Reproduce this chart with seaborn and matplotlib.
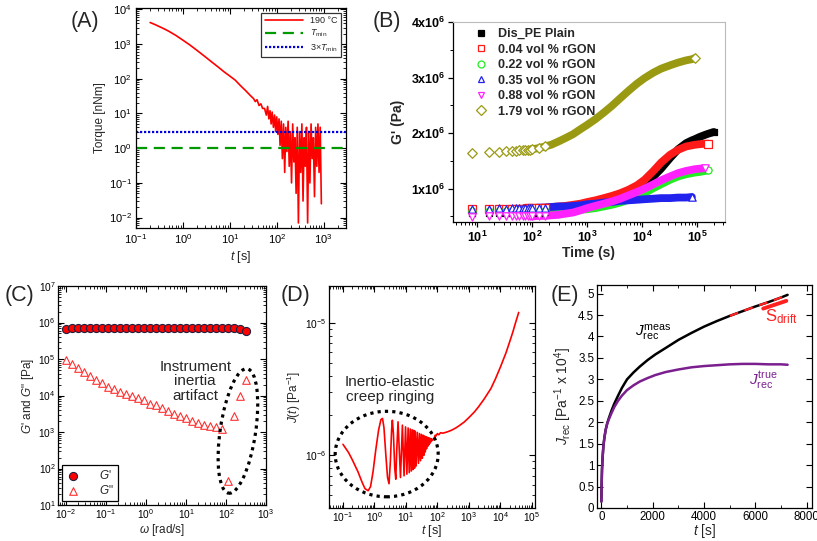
import numpy as np
import pandas as pd
import matplotlib
matplotlib.use("Agg")
import matplotlib.pyplot as plt
import seaborn as sns
from matplotlib.patches import Ellipse
from matplotlib.lines import Line2D
from matplotlib.ticker import (LogLocator, NullFormatter, FixedLocator,
                               MultipleLocator, FuncFormatter)

# ---------------- data ----------------
# (A) torque relaxation at 190 C
A_T_SMOOTH = [0.2, 0.25, 0.3, 0.4, 0.5, 0.7, 1.0, 1.4, 2.0, 3.0, 4.0, 5.5, 7.5,
              10, 13, 17, 22, 28, 32, 35, 38, 42, 46, 50]
A_TQ_SMOOTH = [4200, 3700, 3300, 2750, 2350, 1800, 1300, 950, 660, 430, 315, 225,
               160, 120, 92, 63, 45, 32, 27, 22, 25, 17, 19, 14]
A_T_NOISE = [55, 60, 64, 68, 72, 76, 80, 85, 90, 95, 100, 106, 112, 118, 125, 132,
             140, 148, 156, 165, 175, 185, 196, 207, 219, 232, 245, 259, 274, 290,
             307, 325, 344, 364, 385, 407, 431, 456, 482, 510, 540, 571, 604, 639,
             676, 715, 757, 800, 846, 895]
A_TQ_NOISE = [14, 9, 16, 7, 12, 5, 11, 4, 9, 3, 8, 2.5, 7, 1.2, 6, 0.5,
              5, 0.2, 4, 0.8, 6, 0.3, 3, 0.1, 5, 0.4, 2, 0.05, 4, 0.007,
              3, 0.2, 5, 0.03, 2, 0.3, 4, 0.007, 3, 0.1, 5, 0.5, 2, 0.04,
              4, 0.3, 5, 0.2, 4, 0.025]
T_MIN = 1.0

# (B) G' vs time
B_TIME = [8, 16, 25, 33, 42, 50, 58, 67, 75, 83, 92, 100, 130, 170, 220, 300, 400,
          550, 750, 1000, 1400, 2000, 2800, 4000, 5600, 8000, 11000, 16000, 22000,
          32000, 45000, 63000, 80000, 90000, 110000, 140000, 160000, 200000]
B_LABELS = ["Dis_PE Plain", "0.04 vol % rGON", "0.22 vol % rGON",
            "0.35 vol % rGON", "0.88 vol % rGON", "1.79 vol % rGON"]
nan = float("nan")
B_PLAIN = [0.56, 0.56, 0.57, 0.56, 0.57, 0.57, 0.56, 0.57, 0.57, 0.57, 0.57, 0.57,
           0.57, 0.58, 0.58, 0.59, 0.61, 0.63, 0.66, 0.70, 0.74, 0.78, 0.82, 0.87,
           0.93, 1.00, 1.08, 1.22, 1.36, 1.55, 1.71, 1.82, 1.87, 1.89, 1.93, 1.97,
           1.99, 2.02]
B_004 = [0.63, 0.63, 0.64, 0.63, 0.64, 0.64, 0.64, 0.64, 0.64, 0.65, 0.65, 0.65,
         0.65, 0.66, 0.67, 0.68, 0.69, 0.71, 0.73, 0.76, 0.79, 0.83, 0.87, 0.92,
         0.98, 1.06, 1.16, 1.32, 1.47, 1.61, 1.70, 1.76, 1.78, 1.79, 1.80, 1.81,
         1.81, nan]
B_022 = [0.60, 0.60, 0.60, 0.60, 0.60, 0.60, 0.60, 0.60, 0.60, 0.60, 0.60, 0.60,
         0.60, 0.60, 0.60, 0.61, 0.61, 0.62, 0.62, 0.63, 0.65, 0.68, 0.71, 0.75,
         0.80, 0.86, 0.92, 1.01, 1.08, 1.16, 1.22, 1.26, 1.28, 1.29, 1.30, 1.32,
         1.33, nan]
B_035 = [0.64, 0.64, 0.65, 0.64, 0.65, 0.65, 0.65, 0.65, 0.65, 0.65, 0.65, 0.65,
         0.66, 0.66, 0.67, 0.68, 0.68, 0.69, 0.70, 0.72, 0.73, 0.75, 0.76, 0.78,
         0.79, 0.80, 0.81, 0.82, 0.83, 0.83, 0.84, 0.84, 0.85, nan, nan, nan,
         nan, nan]
B_088 = [0.49, 0.50, 0.50, 0.50, 0.50, 0.50, 0.50, 0.50, 0.50, 0.50, 0.50, 0.50,
         0.51, 0.51, 0.52, 0.53, 0.55, 0.57, 0.61, 0.65, 0.69, 0.73, 0.77, 0.82,
         0.88, 0.94, 1.00, 1.08, 1.15, 1.22, 1.28, 1.32, 1.34, 1.35, 1.36, 1.37,
         nan, nan]
B_179 = [1.65, 1.66, 1.66, 1.67, 1.68, 1.68, 1.69, 1.69, 1.70, 1.70, 1.70, 1.71,
         1.73, 1.76, 1.79, 1.85, 1.91, 1.98, 2.07, 2.15, 2.25, 2.37, 2.49, 2.63,
         2.76, 2.89, 2.99, 3.09, 3.16, 3.22, 3.27, 3.31, 3.33, 3.35, nan, nan,
         nan, nan]
B_YTICK_LABELS = [r"$\mathbf{1x10^{6}}$", r"$\mathbf{2x10^{6}}$",
                  r"$\mathbf{3x10^{6}}$", r"$\mathbf{4x10^{6}}$"]

# (C) frequency sweep
C_OMEGA = [0.010, 0.0141, 0.020, 0.0282, 0.0398, 0.0562, 0.0794, 0.112, 0.158,
           0.224, 0.316, 0.447, 0.631, 0.891, 1.26, 1.78, 2.51, 3.55, 5.01, 7.08,
           10.0, 14.1, 20.0, 28.2, 39.8, 56.2, 79.4, 112, 158, 224, 316]
C_GP = [6.8e5, 6.9e5, 6.9e5, 7.0e5, 7.0e5, 7.0e5, 7.1e5, 7.1e5, 7.1e5, 7.1e5,
        7.1e5, 7.2e5, 7.2e5, 7.2e5, 7.2e5, 7.2e5, 7.2e5, 7.2e5, 7.2e5, 7.2e5,
        7.2e5, 7.2e5, 7.2e5, 7.2e5, 7.1e5, 7.1e5, 7.1e5, 7.0e5, 6.9e5, 6.7e5, 6.0e5]
C_GPP = [93000, 72000, 57000, 44000, 34000, 27000, 22000, 17000, 15000, 12600,
         11000, 9500, 8500, 7600, 5800, 5600, 4600, 3700, 3200, 2800,
         2400, 1950, 1740, 1550, 1450, 1350, 1200, 45, 2800, 10000, 26000]

# (D) creep compliance (units of 1e-6 1/Pa)
D_T = [0.10, 0.15, 0.20, 0.30, 0.40, 0.50, 0.63, 0.75, 0.90, 1.10,
       1.35, 1.60, 1.80, 2.00, 2.30, 2.60, 2.90, 3.20, 3.50, 3.70,
       4.00, 4.40, 4.75, 5.10, 5.60, 6.70, 7.70, 8.70, 9.70, 10.7,
       11.7, 12.7, 13.7, 14.7, 15.7, 16.7, 17.7, 18.7, 19.7, 21,
       23, 25, 27, 29, 31, 33, 35, 37, 39, 41,
       43, 45, 47, 49, 51, 53, 55, 57, 59, 61,
       63, 65, 67, 70, 75, 80, 85, 90, 100, 110,
       125, 150, 200, 250, 300, 400, 500, 700, 1000, 1500,
       2000, 3000, 5000, 7000, 10000, 15000, 20000, 25000, 30000, 38000]
D_J = [1.21, 1.05, 0.92, 0.75, 0.63, 0.56, 0.54, 0.58, 0.75, 1.10,
       1.55, 1.86, 1.90, 1.62, 1.00, 0.68, 0.61, 0.90, 1.55, 1.84,
       1.45, 0.80, 0.66, 1.10, 1.79, 0.68, 1.69, 0.70, 1.64, 0.72,
       1.61, 0.74, 1.58, 0.76, 1.56, 0.78, 1.54, 0.80, 1.52, 0.83,
       1.49, 0.87, 1.46, 0.91, 1.44, 0.95, 1.42, 1.00, 1.40, 1.06,
       1.38, 1.12, 1.37, 1.17, 1.36, 1.20, 1.35, 1.23, 1.34, 1.26,
       1.33, 1.28, 1.32, 1.30, 1.33, 1.36, 1.42, 1.40, 1.46, 1.43,
       1.48, 1.47, 1.50, 1.53, 1.56, 1.62, 1.68, 1.78, 1.93, 2.13,
       2.32, 2.65, 3.20, 3.80, 4.65, 5.95, 7.30, 8.60, 10.0, 12.0]

# (E) recoverable compliance (units of 1e-4 1/Pa)
E_T = [0, 10, 25, 50, 80, 120, 170, 230, 300, 400, 500, 650, 800, 1000, 1250,
       1500, 1800, 2100, 2500, 3000, 3500, 4000, 4500, 5000, 5500, 6000, 6500,
       7000, 7250]
E_MEAS = [0.15, 0.55, 0.90, 1.20, 1.45, 1.65, 1.83, 1.98, 2.11, 2.28, 2.43, 2.62,
          2.80, 3.00, 3.16, 3.30, 3.45, 3.58, 3.73, 3.92, 4.08, 4.23, 4.36, 4.48,
          4.59, 4.70, 4.80, 4.91, 4.97]
E_TRUE = [0.15, 0.55, 0.90, 1.20, 1.45, 1.65, 1.83, 1.97, 2.08, 2.22, 2.35, 2.50,
          2.62, 2.75, 2.86, 2.95, 3.03, 3.10, 3.17, 3.23, 3.28, 3.31, 3.33, 3.35,
          3.36, 3.36, 3.35, 3.35, 3.34]
SDRIFT_T = [6300, 7200]
SDRIFT_J = [4.65, 4.83]

# ---------------- style ----------------
sns.set_theme(style="ticks")
plt.rcParams['font.family'] = ['Liberation Sans', 'DejaVu Sans']
plt.rcParams['mathtext.fontset'] = 'custom'
plt.rcParams['mathtext.rm'] = 'Liberation Sans'
plt.rcParams['mathtext.it'] = 'Liberation Sans:italic'
plt.rcParams['mathtext.bf'] = 'Liberation Sans:bold'
plt.rcParams['axes.linewidth'] = 0.9
plt.rcParams['axes.edgecolor'] = 'black'

W, H = 817, 541
fig = plt.figure(figsize=(W / 100, H / 100), dpi=100)
fig.patch.set_facecolor('white')


def px_axes(l, t, r, b):
    return fig.add_axes([l / W, 1 - b / H, (r - l) / W, (b - t) / H])


def log_minor(ax, axis='both'):
    loc = lambda: LogLocator(base=10, subs=np.arange(2, 10), numticks=100)
    if axis in ('x', 'both'):
        ax.xaxis.set_minor_locator(loc())
        ax.xaxis.set_minor_formatter(NullFormatter())
        ax.xaxis.set_major_locator(LogLocator(base=10, numticks=100))
    if axis in ('y', 'both'):
        ax.yaxis.set_minor_locator(loc())
        ax.yaxis.set_minor_formatter(NullFormatter())
        ax.yaxis.set_major_locator(LogLocator(base=10, numticks=100))


def in_ticks(ax, size, pad=3):
    ax.tick_params(which='both', direction='in', top=True, right=True,
                   labelsize=size, colors='black', pad=pad)
    ax.tick_params(which='major', length=4, width=0.8)
    ax.tick_params(which='minor', length=2, width=0.6)


def place_xlabel(ax, y_frac):
    ax.xaxis.label.set_va('center')
    ax.xaxis.set_label_coords(0.5, y_frac)


# ---------------- (A) ----------------
axA = px_axes(136, 8, 346, 228)
axA.set_xscale('log'); axA.set_yscale('log')
dfA = pd.DataFrame({"t": A_T_SMOOTH + A_T_NOISE, "torque": A_TQ_SMOOTH + A_TQ_NOISE})
sns.lineplot(data=dfA, x="t", y="torque", ax=axA, color="#ff0000", lw=1.2,
             estimator=None, sort=False, label="190 °C")
axA.axhline(T_MIN, color="#009a00", ls=(0, (5, 3)), lw=1.6, label=r"$T_{\rm min}$")
axA.axhline(3 * T_MIN, color="#0000dd", ls=(0, (1, 0.8)), lw=1.6,
            label=r"3×$T_{\rm min}$")
axA.set_xlim(0.1, 3000); axA.set_ylim(5e-3, 1.1e4)
log_minor(axA)
in_ticks(axA, 8)
axA.set_xlabel(r"$t$ [s]", fontsize=9, labelpad=2)
axA.set_ylabel("Torque [nNm]", fontsize=8.5, labelpad=2)
legA = axA.legend(loc='upper right', fontsize=6.5, frameon=True, fancybox=False,
                  edgecolor='#333333', framealpha=1, handlelength=4.2,
                  borderaxespad=0.5, labelspacing=0.3, borderpad=0.4)
legA.get_frame().set_linewidth(0.9)

# ---------------- (B) ----------------
axB = px_axes(453, 22, 725, 222)
axB.set_xscale('log')
b_series = [B_PLAIN, B_004, B_022, B_035, B_088, B_179]
b_colors = ["#000000", "#ff1a1a", "#22ee22", "#2222ee", "#ff22ff", "#9a9a12"]
b_markers = ["s", "s", "o", "^", "v", "D"]
b_sizes = [18, 26, 26, 28, 28, 24]
for vals, col, mk, sz in zip(b_series, b_colors, b_markers, b_sizes):
    df = pd.DataFrame({"t": B_TIME, "G": np.array(vals) * 1e6}).dropna()
    dense = df[df["t"] >= 100]
    sns.lineplot(data=dense, x="t", y="G", ax=axB, color=col, lw=5.6,
                 estimator=None, legend=False, solid_capstyle='round')
    sparse = pd.concat([df[df["t"] <= 170], df.iloc[[-1]]])
    fc = col if col == "#000000" else 'white'
    sns.scatterplot(data=sparse, x="t", y="G", ax=axB, marker=mk, s=sz,
                    facecolor=fc, edgecolor=col, linewidth=0.9, legend=False,
                    zorder=3)
axB.set_xlim(3.6, 3.2e5); axB.set_ylim(4e5, 4e6)
log_minor(axB, 'x')
axB.xaxis.set_major_formatter(FuncFormatter(
    lambda v, p: r"$\mathbf{10^{%d}}$" % int(round(np.log10(v)))))
axB.yaxis.set_major_locator(FixedLocator([1e6, 2e6, 3e6, 4e6]))
axB.yaxis.set_minor_locator(FixedLocator([5e5, 1.5e6, 2.5e6, 3.5e6]))
axB.set_yticklabels(B_YTICK_LABELS)
axB.tick_params(which='both', direction='out', labelsize=9, colors='black', pad=2)
axB.tick_params(which='major', length=3.5, width=0.9)
axB.tick_params(which='minor', length=2, width=0.7)
for s in ['top', 'right']:
    axB.spines[s].set_color('#bbbbbb'); axB.spines[s].set_linewidth(0.8)
axB.set_xlabel("Time (s)", fontsize=10, fontweight='bold', labelpad=1)
axB.set_ylabel("G' (Pa)", fontsize=10, fontweight='bold', labelpad=4)
handles = []
for col, mk in zip(b_colors, b_markers):
    fc = col if col == "#000000" else 'white'
    handles.append(Line2D([], [], ls='', marker=mk,
                          markersize=4.5 if col == "#000000" else 5,
                          markerfacecolor=fc, markeredgecolor=col,
                          markeredgewidth=0.9))
axB.legend(handles, B_LABELS, loc='upper left', bbox_to_anchor=(0.06, 1.0),
           frameon=False, prop={'weight': 'bold', 'size': 9}, handlelength=0.8,
           handletextpad=1.0, labelspacing=0.28, borderaxespad=0.2, borderpad=0.3)

# ---------------- (C) ----------------
axC = px_axes(58, 286, 266, 505)
axC.set_xscale('log'); axC.set_yscale('log')
dfC = pd.DataFrame({"omega": C_OMEGA, "Gp": C_GP, "Gpp": C_GPP})
sns.scatterplot(data=dfC, x="omega", y="Gp", ax=axC, marker='o', s=34,
                facecolor='#ff0000', edgecolor='#202040', linewidth=0.8,
                label="$G$'", zorder=3)
sns.scatterplot(data=dfC, x="omega", y="Gpp", ax=axC, marker='^', s=30,
                facecolor='white', edgecolor='#ff3030', linewidth=0.8,
                label='$G$"', zorder=3)
axC.set_xlim(10 ** -2.2, 1e3); axC.set_ylim(10, 1e7)
log_minor(axC)
in_ticks(axC, 7.3, pad=1.8)
axC.set_xlabel(r"$\omega$ [rad/s]", fontsize=8.5)
place_xlabel(axC, (505 - 530) / 219)
axC.set_ylabel("$G$' and $G$\" [Pa]", fontsize=8.5, labelpad=2)
legC = axC.legend(loc='lower left', fontsize=8.5, frameon=True, fancybox=False,
                  edgecolor='black', framealpha=1, handletextpad=1.6,
                  borderaxespad=0.3, labelspacing=0.2, borderpad=0.35,
                  handlelength=1.2)
legC.get_frame().set_linewidth(0.9)
axC.text(0.66, 0.565, "Instrument\ninertia\nartifact", transform=axC.transAxes,
         ha='center', va='center', fontsize=11, linespacing=1.05)
axC.add_patch(Ellipse((0.865, 0.338), 0.17, 0.575, angle=-9,
                      transform=axC.transAxes, fill=False, ec='black', lw=2.3,
                      ls=(0, (1, 1.3)), zorder=4))

# ---------------- (D) ----------------
axD = px_axes(329, 286, 535, 508)
axD.set_xscale('log'); axD.set_yscale('log')
dfD = pd.DataFrame({"t": D_T, "J": np.array(D_J) * 1e-6})
sns.lineplot(data=dfD, x="t", y="J", ax=axD, color="#ff0000", lw=1.2,
             estimator=None, sort=False, legend=False)
axD.set_xlim(0.036, 1.25e5); axD.set_ylim(4e-7, 1.9e-5)
log_minor(axD)
in_ticks(axD, 7.3, pad=1.8)
axD.set_xlabel(r"$t$ [s]", fontsize=9)
place_xlabel(axD, (508 - 531) / 222)
axD.set_ylabel(r"$J(t)$ [Pa$^{-1}$]", fontsize=8.5, labelpad=2)
axD.text(0.296, 0.535, "Inertio-elastic\ncreep ringing", transform=axD.transAxes,
         ha='center', va='center', fontsize=11, linespacing=1.05)
axD.add_patch(Ellipse((0.28, 0.243), 0.5, 0.385, transform=axD.transAxes,
                      fill=False, ec='black', lw=2.3, ls=(0, (1, 1.3)), zorder=4))

# ---------------- (E) ----------------
axE = px_axes(597, 285, 812, 508)
dfE = pd.DataFrame({"t": E_T, "meas": E_MEAS, "true": E_TRUE})
sns.lineplot(data=dfE, x="t", y="meas", ax=axE, color="black", lw=1.8,
             estimator=None, legend=False)
sns.lineplot(data=dfE, x="t", y="true", ax=axE, color="#7b1f8f", lw=1.8,
             estimator=None, legend=False)
tail = dfE[dfE["t"] >= 5000]
sns.lineplot(data=tail, x="t", y="meas", ax=axE, color="#ff2020", lw=1.6,
             estimator=None, legend=False, dashes=False, linestyle=(0, (4, 3)))
dfS = pd.DataFrame({"t": SDRIFT_T, "J": SDRIFT_J})
sns.lineplot(data=dfS, x="t", y="J", ax=axE, color="#ff2020", lw=2.8,
             estimator=None, legend=False)
axE.set_xlim(-170, 8200); axE.set_ylim(0, 5.2)
axE.xaxis.set_major_locator(MultipleLocator(2000))
axE.xaxis.set_minor_locator(MultipleLocator(1000))
axE.yaxis.set_major_locator(MultipleLocator(0.5))
axE.yaxis.set_major_formatter(FuncFormatter(lambda v, p: "%g" % v))
in_ticks(axE, 8.3, pad=2)
axE.set_xlabel(r"$t$ [s]", fontsize=10)
place_xlabel(axE, (508 - 531) / 223)
axE.set_ylabel(r"$J_{\rm rec}$ [Pa$^{-1}$ x 10$^{4}$]", fontsize=10, labelpad=3)
axE.text(2020, 4.09, r"$J_{\rm rec}^{\rm meas}$", ha='center', va='center',
         fontsize=11, color='black')
axE.text(6290, 2.98, r"$J_{\rm rec}^{\rm true}$", ha='center', va='center',
         fontsize=11, color='#7b1f8f')
axE.text(7000, 4.47, r"S$_{\rm drift}$", ha='center', va='center',
         fontsize=12, color='#ff2020')

# ---------------- panel letters ----------------
for lab, x, y in [("(A)", 85, 22), ("(B)", 387, 22), ("(C)", 20, 295),
                  ("(D)", 295, 295), ("(E)", 565, 295)]:
    fig.text(x / W, 1 - y / H, lab, ha='center', va='center', fontsize=15.5)

fig.savefig("out.png", dpi=100)
